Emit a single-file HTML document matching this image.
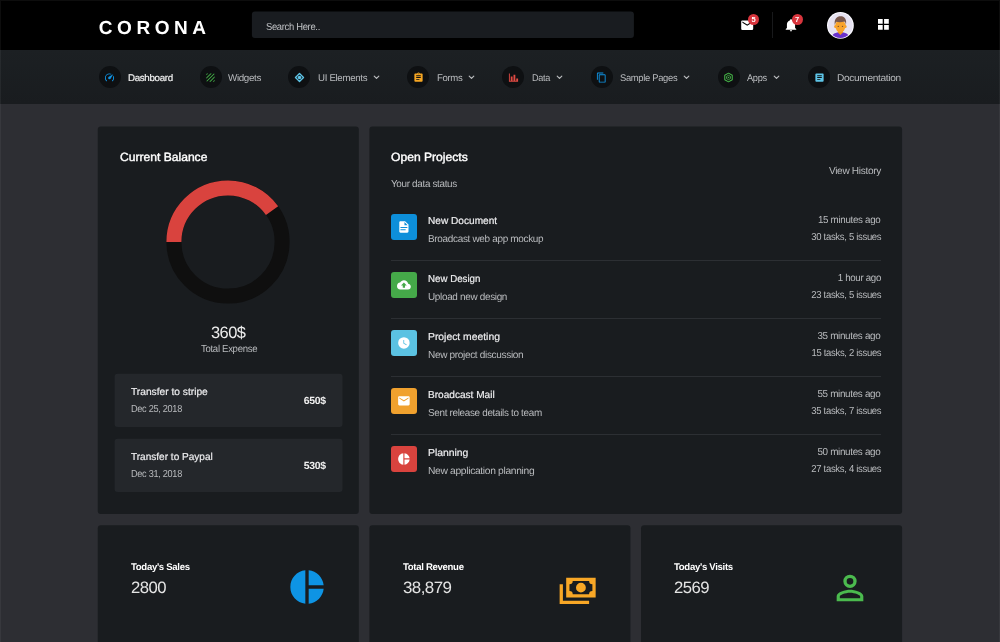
<!DOCTYPE html>
<html lang="en">
<head>
<meta charset="utf-8">
<title>Corona Admin</title>
<style>
*{box-sizing:border-box;margin:0;padding:0}
html,body{width:1000px;height:642px;overflow:hidden;background:#2d2e33;font-family:"Liberation Sans",sans-serif;color:#fff}
#w{position:absolute;left:-6px;top:-6px;width:1012px;height:660px;padding:0;filter:blur(.35px);background:#2d2e33}
#in{position:absolute;left:6px;top:6px;width:1000px;height:642px}
.abs{position:absolute}
.t{position:absolute;white-space:nowrap;line-height:1;text-rendering:geometricPrecision}
#top{left:-6px;top:-6px;width:1012px;height:56px;background:#000}
#frame{left:0;top:0;width:1000px;height:650px;border:1px solid rgba(255,255,255,.05);pointer-events:none}
#nav{left:-6px;top:49.6px;width:1012px;height:54px;background:linear-gradient(#1c2023,#191c1f)}
.card{position:absolute;background:#191c1f;border-radius:3px}
#search{left:252px;top:12px;width:382px;height:26px;background:#191c20;border-radius:3px}
.ni{position:absolute;top:66px;width:22px;height:22px;border-radius:50%;background:#0e1012}
.ni svg{position:absolute;left:5.5px;top:5.5px;width:11px;height:11px}
.chev{position:absolute;top:75.3px;width:7px;height:5px}
.box{position:absolute;left:114.5px;width:228px;height:53.3px;background:#24272b;border-radius:3px}
.ico{position:absolute;left:390.8px;width:25.8px;height:25.8px;border-radius:3px}
.ico svg{position:absolute;left:6px;top:6px;width:13.8px;height:13.8px;fill:#fff}
.hr{position:absolute;left:391px;width:490px;height:1px;background:#2c2f33}
.badge{position:absolute;width:11px;height:11px;border-radius:50%;background:#d8353d;color:#fff;font-size:7.5px;font-weight:bold;text-align:center;line-height:11px}
.big{position:absolute;width:40px;height:40px}
</style>
</head>
<body>
<div id="w"><div id="in">
<div id="top" class="abs"></div>
<div id="nav" class="abs"></div>

<svg class="abs" style="left:740.2px;top:17.5px" width="14.4" height="14.4" viewBox="0 0 24 24"><path fill="#fff" d="M20,8L12,13L4,8V6L12,11L20,6M20,4H4C2.89,4 2,4.89 2,6V18A2,2 0 0,0 4,20H20A2,2 0 0,0 22,18V6C22,4.89 21.1,4 20,4Z"/></svg>
<div class="badge" style="left:748px;top:14px">5</div>
<div class="abs" style="left:772px;top:12px;width:1px;height:26px;background:#18191b"></div>
<svg class="abs" style="left:784px;top:18px" width="14" height="14" viewBox="0 0 24 24"><path fill="#fff" d="M21,19V20H3V19L5,17V11C5,7.9 7.03,5.17 10,4.29C10,4.19 10,4.1 10,4A2,2 0 0,1 12,2A2,2 0 0,1 14,4C14,4.1 14,4.19 14,4.29C16.97,5.17 19,7.9 19,11V17L21,19M14,21A2,2 0 0,1 12,23A2,2 0 0,1 10,21"/></svg>
<div class="badge" style="left:791.5px;top:14px">7</div>
<svg class="abs" style="left:827px;top:12px" width="26.8" height="26.8" viewBox="0 0 26.8 26.8">
<defs><clipPath id="av"><circle cx="13.4" cy="13.4" r="12.5"/></clipPath></defs>
<circle cx="13.4" cy="13.4" r="13.4" fill="#fbfaff"/>
<circle cx="13.4" cy="13.4" r="12.3" fill="#e6e2f1"/>
<g clip-path="url(#av)">
<path d="M3.5 27 C4 22.3 8.5 20.3 13.4 20.3 C18.3 20.3 22.8 22.3 23.3 27Z" fill="#6932cc"/>
<path d="M10.9 17.5 H15.9 V20.6 L13.4 23 L10.9 20.6Z" fill="#ee9722"/>
<ellipse cx="8.3" cy="14.6" rx="1.1" ry="1.5" fill="#f29c27"/><ellipse cx="18.5" cy="14.6" rx="1.1" ry="1.5" fill="#f29c27"/>
<ellipse cx="13.4" cy="14" rx="5.1" ry="6.3" fill="#f9a42c"/>
<path d="M7.9 13.6 C6.6 6.8 10 4.2 13.6 4.2 C17.4 4.2 20.2 6.8 18.9 13.6 C18.9 11.2 18.3 10 17.3 9.6 C14.6 10.4 11 10.3 9.4 9.8 C8.5 10.6 8 11.6 7.9 13.6Z" fill="#79584d"/>
<circle cx="11.3" cy="14.4" r="0.7" fill="#7a5230"/><circle cx="15.5" cy="14.4" r="0.7" fill="#7a5230"/>
</g></svg>
<svg class="abs" style="left:878px;top:19.2px" width="10.8" height="10.8" viewBox="0 0 10.8 10.8"><path fill="#fff" d="M0 0h4.7v4.7H0zM6.1 0h4.7v4.7H6.1zM0 6.1h4.7v4.7H0zM6.1 6.1h4.7v4.7H6.1z"/></svg>

<div class="ni" style="left:98.7px"><svg viewBox="0 0 24 24" fill="#0f93e3"><path d="M12,16A3,3 0 0,1 9,13C9,11.88 9.61,10.9 10.5,10.39L20.21,4.77L14.68,14.35C14.18,15.33 13.17,16 12,16M12,3C13.81,3 15.5,3.5 16.97,4.32L14.87,5.53C14,5.19 13,5 12,5A8,8 0 0,0 4,13C4,15.21 4.89,17.21 6.34,18.65H6.35C6.74,19.04 6.74,19.67 6.35,20.06C5.96,20.45 5.32,20.45 4.93,20.07V20.07C3.12,18.26 2,15.76 2,13A10,10 0 0,1 12,3M22,13C22,15.76 20.88,18.26 19.07,20.07V20.07C18.68,20.45 18.05,20.45 17.66,20.06C17.27,19.67 17.27,19.04 17.66,18.65V18.65C19.11,17.2 20,15.21 20,13C20,12 19.81,11 19.46,10.1L20.67,8C21.5,9.5 22,11.18 22,13Z"/></svg></div>
<div class="ni" style="left:199.5px"><svg viewBox="0 0 24 24" fill="#46b648"><path d="M9.29,21H12.12L21,12.12V9.29M19,21C19.55,21 20.05,20.78 20.41,20.41C20.78,20.05 21,19.55 21,19V17L17,21M5,3A2,2 0 0,0 3,5V7L7,3M11.88,3L3,11.88V14.71L14.71,3M19.5,3.08L3.08,19.5C3.17,19.85 3.35,20.16 3.59,20.41C3.84,20.65 4.15,20.83 4.5,20.92L20.93,4.5C20.74,3.8 20.2,3.26 19.5,3.08Z"/></svg></div>
<div class="ni" style="left:288.0px"><svg viewBox="0 0 24 24" fill="#5ec5e8"><path d="M12 3.2 L20.8 12 L12 20.8 L3.2 12Z" fill="none" stroke="#5ec5e8" stroke-width="2.9" stroke-linejoin="round"/><circle cx="12" cy="12" r="3.9"/></svg></div>
<svg class="chev" style="left:372.5px" viewBox="0 0 7 5"><path d="M1.2 1.1 L3.5 3.4 L5.8 1.1" fill="none" stroke="#bcbec0" stroke-width="1.15" stroke-linecap="round" stroke-linejoin="round"/></svg>
<div class="ni" style="left:407.4px"><svg viewBox="0 0 24 24" fill="#f6a623"><path d="M17,9H7V7H17M17,13H7V11H17M14,17H7V15H14M12,3A1,1 0 0,1 13,4A1,1 0 0,1 12,5A1,1 0 0,1 11,4A1,1 0 0,1 12,3M19,3H14.82C14.4,1.84 13.3,1 12,1C10.7,1 9.6,1.84 9.18,3H5A2,2 0 0,0 3,5V19A2,2 0 0,0 5,21H19A2,2 0 0,0 21,19V5A2,2 0 0,0 19,3Z"/></svg></div>
<svg class="chev" style="left:467.5px" viewBox="0 0 7 5"><path d="M1.2 1.1 L3.5 3.4 L5.8 1.1" fill="none" stroke="#bcbec0" stroke-width="1.15" stroke-linecap="round" stroke-linejoin="round"/></svg>
<div class="ni" style="left:502.0px"><svg viewBox="0 0 24 24" fill="#e04a43"><path d="M22,21H2V3H4V19H6V10H10V19H12V6H16V19H18V14H22V21Z"/></svg></div>
<svg class="chev" style="left:555.8px" viewBox="0 0 7 5"><path d="M1.2 1.1 L3.5 3.4 L5.8 1.1" fill="none" stroke="#bcbec0" stroke-width="1.15" stroke-linecap="round" stroke-linejoin="round"/></svg>
<div class="ni" style="left:590.8px"><svg viewBox="0 0 24 24" fill="#0f93e3"><path d="M19,21H8V7H19M19,5H8A2,2 0 0,0 6,7V21A2,2 0 0,0 8,23H19A2,2 0 0,0 21,21V7A2,2 0 0,0 19,5M16,1H4A2,2 0 0,0 2,3V17H4V3H16V1Z"/></svg></div>
<svg class="chev" style="left:683.0px" viewBox="0 0 7 5"><path d="M1.2 1.1 L3.5 3.4 L5.8 1.1" fill="none" stroke="#bcbec0" stroke-width="1.15" stroke-linecap="round" stroke-linejoin="round"/></svg>
<div class="ni" style="left:717.9px"><svg viewBox="0 0 24 24" fill="#46b648"><path d="M12 2.5 L20.2 7.2 V16.8 L12 21.5 L3.8 16.8 V7.2Z" fill="none" stroke="#46b648" stroke-width="2.2" stroke-linejoin="round"/><path d="M12 7.2 L16.3 9.8 V14.2 L12 16.8 L7.7 14.2 V9.8Z" fill="none" stroke="#46b648" stroke-width="1.8" stroke-linejoin="round"/><circle cx="12" cy="12" r="1.6"/></svg></div>
<svg class="chev" style="left:772.8px" viewBox="0 0 7 5"><path d="M1.2 1.1 L3.5 3.4 L5.8 1.1" fill="none" stroke="#bcbec0" stroke-width="1.15" stroke-linecap="round" stroke-linejoin="round"/></svg>
<div class="ni" style="left:808.0px"><svg viewBox="0 0 24 24" fill="#5ec5e8"><path d="M14,17H7V15H14M17,13H7V11H17M17,9H7V7H17M19,3H5C3.89,3 3,3.89 3,5V19A2,2 0 0,0 5,21H19A2,2 0 0,0 21,19V5C21,3.89 20.1,3 19,3Z"/></svg></div>


<svg class="abs" style="left:0;top:0" width="1000" height="642" viewBox="0 0 1000 642">
<g fill="#191c1f">
<rect x="97.75" y="126.4" width="261.05" height="387.6" rx="3"/>
<rect x="369.4" y="126.4" width="532.7" height="387.6" rx="3"/>
<rect x="97.75" y="525.2" width="261.05" height="130" rx="3"/>
<rect x="369.4" y="525.2" width="261.05" height="130" rx="3"/>
<rect x="641.05" y="525.2" width="261.05" height="130" rx="3"/>
</g>
<g fill="#24272b">
<rect x="114.6" y="373.8" width="227.9" height="53.3" rx="3"/>
<rect x="114.6" y="438.8" width="227.9" height="53.3" rx="3"/>
</g>
<rect x="251.9" y="11.6" width="382" height="26.4" rx="3" fill="#191c20"/>
</svg>
<svg class="abs" style="left:166.3px;top:179.7px" width="124" height="124" viewBox="0 0 124 124">
<circle cx="62" cy="62" r="54.1" fill="none" stroke="#0f0f0f" stroke-width="15"/>
<circle cx="62" cy="62" r="54.1" fill="none" stroke="#d9433e" stroke-width="15" stroke-dasharray="136.2 400" transform="rotate(180 62 62)"/>
</svg>

<div class="ico" style="top:214px;background:#0d8fda"><svg viewBox="0 0 24 24"><path d="M13,9H18.5L13,3.5V9M6,2H14L20,8V20A2,2 0 0,1 18,22H6C4.89,22 4,21.1 4,20V4C4,2.89 4.89,2 6,2M15,18V16H6V18H15M18,14V12H6V14H18Z"/></svg></div>
<div class="ico" style="top:272px;background:#45a949"><svg viewBox="0 0 24 24"><path d="M14,13V17H10V13H7L12,8L17,13M19.35,10.03C18.67,6.59 15.64,4 12,4C9.11,4 6.6,5.64 5.35,8.03C2.34,8.36 0,10.9 0,14A6,6 0 0,0 6,20H19A5,5 0 0,0 24,15C24,12.36 21.95,10.22 19.35,10.03Z"/></svg></div>
<div class="ico" style="top:330px;background:#5bc2e2"><svg viewBox="0 0 24 24"><path d="M12,2A10,10 0 0,0 2,12A10,10 0 0,0 12,22A10,10 0 0,0 22,12A10,10 0 0,0 12,2M16.2,16.2L11,13V7H12.5V12.2L17,14.9L16.2,16.2Z"/></svg></div>
<div class="ico" style="top:388px;background:#f0a12e"><svg viewBox="0 0 24 24"><path d="M20,8L12,13L4,8V6L12,11L20,6M20,4H4C2.89,4 2,4.89 2,6V18A2,2 0 0,0 4,20H20A2,2 0 0,0 22,18V6C22,4.89 21.1,4 20,4Z"/></svg></div>
<div class="ico" style="top:446px;background:#d9433e"><svg viewBox="0 0 24 24"><path d="M11,2V22C5.9,21.5 2,17.2 2,12C2,6.8 5.9,2.5 11,2M13,2V11H22C21.5,6.2 17.8,2.5 13,2M13,13V22C17.7,21.5 21.5,17.8 22,13H13Z"/></svg></div>
<div class="hr" style="top:260px"></div>
<div class="hr" style="top:318px"></div>
<div class="hr" style="top:376px"></div>
<div class="hr" style="top:434px"></div>

<svg class="big" style="left:286.5px;top:567.4px" viewBox="0 0 24 24"><path fill="#0e94e4" d="M11,2V22C5.9,21.5 2,17.2 2,12C2,6.8 5.9,2.5 11,2M13,2V11H22C21.5,6.2 17.8,2.5 13,2M13,13V22C17.7,21.5 21.5,17.8 22,13H13Z"/></svg>
<svg class="big" style="left:558.3px;top:568px;width:39.3px;height:39.3px" viewBox="0 0 24 24"><path fill="#f8a726" d="M5,6H23V18H5V6M14,9A3,3 0 0,1 17,12A3,3 0 0,1 14,15A3,3 0 0,1 11,12A3,3 0 0,1 14,9M9,8A2,2 0 0,1 7,10V14A2,2 0 0,1 9,16H19A2,2 0 0,1 21,14V10A2,2 0 0,1 19,8H9M1,10H3V20H19V22H1V10Z"/></svg>
<svg class="big" style="left:829.6px;top:567.5px" viewBox="0 0 24 24"><path fill="#4bba4e" d="M12,4A4,4 0 0,1 16,8A4,4 0 0,1 12,12A4,4 0 0,1 8,8A4,4 0 0,1 12,4M12,6A2,2 0 0,0 10,8A2,2 0 0,0 12,10A2,2 0 0,0 14,8A2,2 0 0,0 12,6M12,13C14.67,13 20,14.33 20,17V20H4V17C4,14.33 9.33,13 12,13M12,14.9C9.03,14.9 5.9,16.36 5.9,17V18.1H18.1V17C18.1,16.36 14.97,14.9 12,14.9Z"/></svg>

<div class="t" style="font-size:19.0px;top:18.90px;color:#ffffff;font-weight:bold;letter-spacing:4.57px;left:98.75px;transform-origin:0 0;">CORONA</div>
<div class="t" style="font-size:10.2px;top:23.30px;color:#c0c2c5;letter-spacing:-0.34px;left:266.25px;transform-origin:0 0;transform:scaleX(0.9230);">Search Here..</div>
<div class="t" style="font-size:9.7px;top:74.30px;color:#f4f4f4;-webkit-text-stroke:0.18px #f4f4f4;letter-spacing:-0.32px;left:127.50px;transform-origin:0 0;transform:scaleX(1.0059);">Dashboard</div>
<div class="t" style="font-size:9.7px;top:74.30px;color:#b9bbbe;letter-spacing:-0.32px;left:228.30px;transform-origin:0 0;transform:scaleX(1.0095);">Widgets</div>
<div class="t" style="font-size:9.7px;top:74.30px;color:#b9bbbe;letter-spacing:-0.32px;left:317.50px;transform-origin:0 0;transform:scaleX(0.9986);">UI Elements</div>
<div class="t" style="font-size:9.7px;top:74.30px;color:#b9bbbe;letter-spacing:-0.32px;left:436.70px;transform-origin:0 0;transform:scaleX(0.9855);">Forms</div>
<div class="t" style="font-size:9.7px;top:74.30px;color:#b9bbbe;letter-spacing:-0.32px;left:531.80px;transform-origin:0 0;transform:scaleX(0.9432);">Data</div>
<div class="t" style="font-size:9.7px;top:74.30px;color:#b9bbbe;letter-spacing:-0.32px;left:620.40px;transform-origin:0 0;transform:scaleX(0.9682);">Sample Pages</div>
<div class="t" style="font-size:9.7px;top:74.30px;color:#b9bbbe;letter-spacing:-0.32px;left:747.40px;transform-origin:0 0;transform:scaleX(0.9559);">Apps</div>
<div class="t" style="font-size:9.7px;top:74.30px;color:#b9bbbe;letter-spacing:-0.32px;left:837.40px;transform-origin:0 0;transform:scaleX(1.0470);">Documentation</div>
<div class="t" style="font-size:11.9px;top:151.80px;color:#ffffff;-webkit-text-stroke:0.4px #ffffff;left:119.60px;transform-origin:0 0;transform:scaleX(1.0170);">Current Balance</div>
<div class="t" style="font-size:16.5px;top:324.80px;color:#ececec;letter-spacing:-0.54px;left:210.75px;transform-origin:0 0;transform:scaleX(0.9975);">360$</div>
<div class="t" style="font-size:10.1px;top:345.40px;color:#b9bbbe;letter-spacing:-0.33px;left:200.50px;transform-origin:0 0;transform:scaleX(0.9503);">Total Expense</div>
<div class="t" style="font-size:10.1px;top:388.40px;color:#ececee;-webkit-text-stroke:0.2px #ececee;left:131.25px;transform-origin:0 0;transform:scaleX(1.0109);">Transfer to stripe</div>
<div class="t" style="font-size:10.1px;top:405.00px;color:#b9bbbe;letter-spacing:-0.33px;left:131.25px;transform-origin:0 0;transform:scaleX(0.9083);">Dec 25, 2018</div>
<div class="t" style="font-size:10.4px;top:397.00px;color:#f0f0f0;font-weight:bold;letter-spacing:-0.34px;right:674.50px;transform-origin:100% 0;transform:scaleX(1.0065);">650$</div>
<div class="t" style="font-size:10.1px;top:453.40px;color:#ececee;-webkit-text-stroke:0.2px #ececee;left:131.25px;transform-origin:0 0;transform:scaleX(0.9956);">Transfer to Paypal</div>
<div class="t" style="font-size:10.1px;top:470.00px;color:#b9bbbe;letter-spacing:-0.33px;left:131.25px;transform-origin:0 0;transform:scaleX(0.9083);">Dec 31, 2018</div>
<div class="t" style="font-size:10.4px;top:462.00px;color:#f0f0f0;font-weight:bold;letter-spacing:-0.34px;right:674.50px;transform-origin:100% 0;transform:scaleX(1.0065);">530$</div>
<div class="t" style="font-size:11.9px;top:151.80px;color:#ffffff;-webkit-text-stroke:0.4px #ffffff;left:390.75px;transform-origin:0 0;transform:scaleX(1.0185);">Open Projects</div>
<div class="t" style="font-size:10.1px;top:180.30px;color:#b9bbbe;letter-spacing:-0.33px;left:390.75px;transform-origin:0 0;transform:scaleX(0.9794);">Your data status</div>
<div class="t" style="font-size:10.1px;top:167.20px;color:#b9bbbe;letter-spacing:-0.33px;right:119.20px;transform-origin:100% 0;transform:scaleX(1.0003);">View History</div>
<div class="t" style="font-size:10.1px;top:217.00px;color:#ececee;-webkit-text-stroke:0.2px #ececee;left:427.60px;transform-origin:0 0;transform:scaleX(1.0019);">New Document</div>
<div class="t" style="font-size:10.1px;top:234.90px;color:#b9bbbe;letter-spacing:-0.33px;left:427.60px;transform-origin:0 0;transform:scaleX(0.9887);">Broadcast web app mockup</div>
<div class="t" style="font-size:10.1px;top:215.80px;color:#b9bbbe;letter-spacing:-0.33px;right:119.20px;transform-origin:100% 0;transform:scaleX(0.9701);">15 minutes ago</div>
<div class="t" style="font-size:10.1px;top:233.30px;color:#b9bbbe;letter-spacing:-0.33px;right:119.20px;transform-origin:100% 0;transform:scaleX(0.9420);">30 tasks, 5 issues</div>
<div class="t" style="font-size:10.1px;top:275.00px;color:#ececee;-webkit-text-stroke:0.2px #ececee;left:427.60px;transform-origin:0 0;transform:scaleX(0.9628);">New Design</div>
<div class="t" style="font-size:10.1px;top:292.90px;color:#b9bbbe;letter-spacing:-0.33px;left:427.60px;transform-origin:0 0;transform:scaleX(0.9854);">Upload new design</div>
<div class="t" style="font-size:10.1px;top:273.80px;color:#b9bbbe;letter-spacing:-0.33px;right:119.20px;transform-origin:100% 0;transform:scaleX(0.9625);">1 hour ago</div>
<div class="t" style="font-size:10.1px;top:291.30px;color:#b9bbbe;letter-spacing:-0.33px;right:119.20px;transform-origin:100% 0;transform:scaleX(0.9420);">23 tasks, 5 issues</div>
<div class="t" style="font-size:10.1px;top:333.00px;color:#ececee;-webkit-text-stroke:0.2px #ececee;left:427.60px;transform-origin:0 0;transform:scaleX(1.0251);">Project meeting</div>
<div class="t" style="font-size:10.1px;top:350.90px;color:#b9bbbe;letter-spacing:-0.33px;left:427.60px;transform-origin:0 0;transform:scaleX(0.9933);">New project discussion</div>
<div class="t" style="font-size:10.1px;top:331.80px;color:#b9bbbe;letter-spacing:-0.33px;right:119.20px;transform-origin:100% 0;transform:scaleX(0.9778);">35 minutes ago</div>
<div class="t" style="font-size:10.1px;top:349.30px;color:#b9bbbe;letter-spacing:-0.33px;right:119.20px;transform-origin:100% 0;transform:scaleX(0.9393);">15 tasks, 2 issues</div>
<div class="t" style="font-size:10.1px;top:391.00px;color:#ececee;-webkit-text-stroke:0.2px #ececee;left:427.60px;transform-origin:0 0;transform:scaleX(0.9983);">Broadcast Mail</div>
<div class="t" style="font-size:10.1px;top:408.90px;color:#b9bbbe;letter-spacing:-0.33px;left:427.60px;transform-origin:0 0;transform:scaleX(0.9822);">Sent release details to team</div>
<div class="t" style="font-size:10.1px;top:389.80px;color:#b9bbbe;letter-spacing:-0.33px;right:119.20px;transform-origin:100% 0;transform:scaleX(0.9778);">55 minutes ago</div>
<div class="t" style="font-size:10.1px;top:407.30px;color:#b9bbbe;letter-spacing:-0.33px;right:119.20px;transform-origin:100% 0;transform:scaleX(0.9420);">35 tasks, 7 issues</div>
<div class="t" style="font-size:10.1px;top:449.00px;color:#ececee;-webkit-text-stroke:0.2px #ececee;left:427.60px;transform-origin:0 0;transform:scaleX(1.0281);">Planning</div>
<div class="t" style="font-size:10.1px;top:466.90px;color:#b9bbbe;letter-spacing:-0.33px;left:427.60px;transform-origin:0 0;transform:scaleX(1.0192);">New application planning</div>
<div class="t" style="font-size:10.1px;top:447.80px;color:#b9bbbe;letter-spacing:-0.33px;right:119.20px;transform-origin:100% 0;transform:scaleX(0.9778);">50 minutes ago</div>
<div class="t" style="font-size:10.1px;top:465.30px;color:#b9bbbe;letter-spacing:-0.33px;right:119.20px;transform-origin:100% 0;transform:scaleX(0.9420);">27 tasks, 4 issues</div>
<div class="t" style="font-size:9.7px;top:562.60px;color:#ffffff;font-weight:bold;letter-spacing:-0.32px;left:131.00px;transform-origin:0 0;transform:scaleX(0.9886);">Today's Sales</div>
<div class="t" style="font-size:16.5px;top:580.20px;color:#e4e4e4;letter-spacing:-0.54px;left:131.00px;transform-origin:0 0;transform:scaleX(1.0118);">2800</div>
<div class="t" style="font-size:9.7px;top:562.60px;color:#ffffff;font-weight:bold;letter-spacing:-0.32px;left:403.00px;transform-origin:0 0;transform:scaleX(0.9892);">Total Revenue</div>
<div class="t" style="font-size:16.5px;top:580.20px;color:#e4e4e4;letter-spacing:-0.54px;left:403.00px;transform-origin:0 0;transform:scaleX(1.0257);">38,879</div>
<div class="t" style="font-size:9.7px;top:562.60px;color:#ffffff;font-weight:bold;letter-spacing:-0.32px;left:674.20px;transform-origin:0 0;transform:scaleX(0.9898);">Today's Visits</div>
<div class="t" style="font-size:16.5px;top:580.20px;color:#e4e4e4;letter-spacing:-0.54px;left:674.20px;transform-origin:0 0;transform:scaleX(1.0132);">2569</div>
</div></div>
<div id="frame" class="abs"></div>
</body>
</html>
